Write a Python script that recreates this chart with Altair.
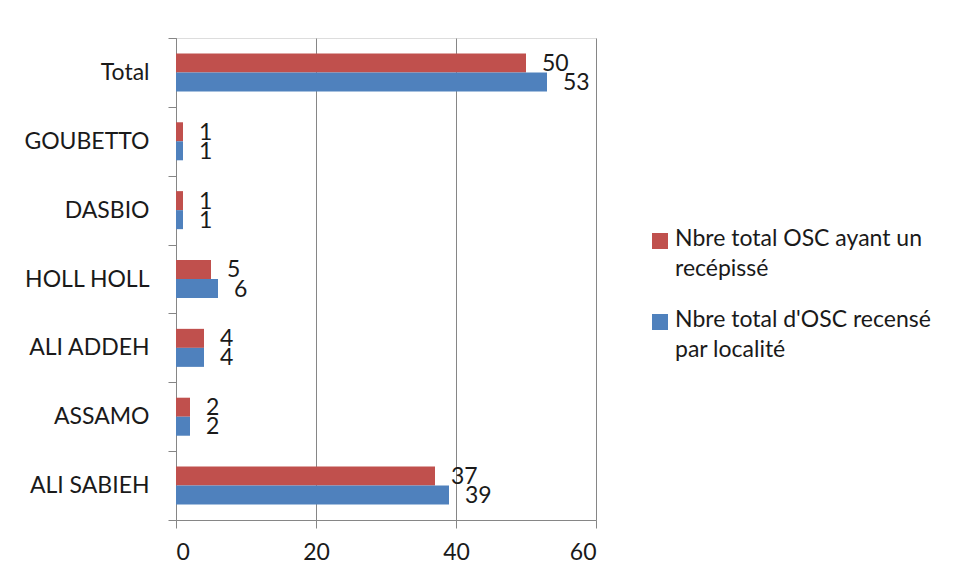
import altair as alt
import pandas as pd

categories = ["Total", "GOUBETTO", "DASBIO", "HOLL HOLL", "ALI ADDEH", "ASSAMO", "ALI SABIEH"]
series = ["Nbre total OSC ayant un recépissé", "Nbre total d'OSC recensé par localité"]
recepisse = [50, 1, 1, 5, 4, 2, 37]
recenses = [53, 1, 1, 6, 4, 2, 39]
colors = ["#C0504D", "#4F81BD"]
x_ticks = [0, 20, 40, 60]
legend_text = ["Nbre total OSC ayant un\nrecépissé", "Nbre total d'OSC recensé\npar localité"]

rows = []
for c, a, b in zip(categories, recepisse, recenses):
    rows.append({"cat": c, "serie": series[0], "val": a})
    rows.append({"cat": c, "serie": series[1], "val": b})
df = pd.DataFrame(rows)
leg = pd.DataFrame({"serie": series, "txt": legend_text})

FONT = "Lato"
FS = 23
TXT = "#1a1a1a"

color_scale = alt.Scale(domain=series, range=colors)

y_enc = alt.Y("cat:N", sort=categories, scale=alt.Scale(paddingInner=0, paddingOuter=0),
              axis=alt.Axis(title=None, tickBand="extent", tickSize=8, tickColor="#868686",
                            domainColor="#868686", labelFontSize=FS, labelColor=TXT,
                            labelFont=FONT, labelPadding=19, grid=False, labelLimit=300))
yoff = alt.YOffset("serie:N", sort=series,
                   scale=alt.Scale(paddingInner=0, paddingOuter=0.81))
x_enc = alt.X("val:Q", scale=alt.Scale(domain=[0, 60], nice=False),
              axis=alt.Axis(title=None, values=x_ticks, tickSize=8, tickColor="#868686",
                            domainColor="#868686", gridColor="#868686", grid=True,
                            labelFontSize=FS, labelColor=TXT, labelFont=FONT,
                            labelPadding=13))

bars = alt.Chart(df).mark_bar(size=19).encode(
    x=x_enc, y=y_enc, yOffset=yoff,
    color=alt.Color("serie:N", scale=color_scale, legend=None),
)
labels = alt.Chart(df).mark_text(align="left", baseline="middle", dx=16, dy=1,
                                 fontSize=FS, font=FONT, color=TXT).encode(
    x="val:Q", y=alt.Y("cat:N", sort=categories), yOffset=alt.YOffset("serie:N", sort=series),
    text="val:Q",
)

# manual legend (two-line labels, Excel style)
leg_sq = alt.Chart(leg).mark_square(size=256, opacity=1).encode(
    x=alt.value(484), y=alt.value(203),
    color=alt.Color("serie:N", scale=color_scale, legend=None),
).transform_filter(alt.datum.serie == series[0])
leg_sq2 = alt.Chart(leg).mark_square(size=256, opacity=1).encode(
    x=alt.value(484), y=alt.value(284),
    color=alt.Color("serie:N", scale=color_scale, legend=None),
).transform_filter(alt.datum.serie == series[1])
leg_t1 = alt.Chart(leg).mark_text(align="left", baseline="top", lineBreak="\n", lineHeight=30,
                                  fontSize=FS, font=FONT, color=TXT).encode(
    x=alt.value(499), y=alt.value(190), text="txt:N",
).transform_filter(alt.datum.serie == series[0])
leg_t2 = alt.Chart(leg).mark_text(align="left", baseline="top", lineBreak="\n", lineHeight=30,
                                  fontSize=FS, font=FONT, color=TXT).encode(
    x=alt.value(499), y=alt.value(271), text="txt:N",
).transform_filter(alt.datum.serie == series[1])

chart = alt.layer(bars, labels, leg_sq, leg_sq2, leg_t1, leg_t2).properties(
    width=420, height=482,
    autosize=alt.AutoSizeParams(type="none"),
    padding={"left": 168, "top": 30, "right": 350, "bottom": 60},
).configure_view(stroke=None).configure(background="white")

chart.save("out.html", embed_options={"renderer": "svg", "actions": False})
